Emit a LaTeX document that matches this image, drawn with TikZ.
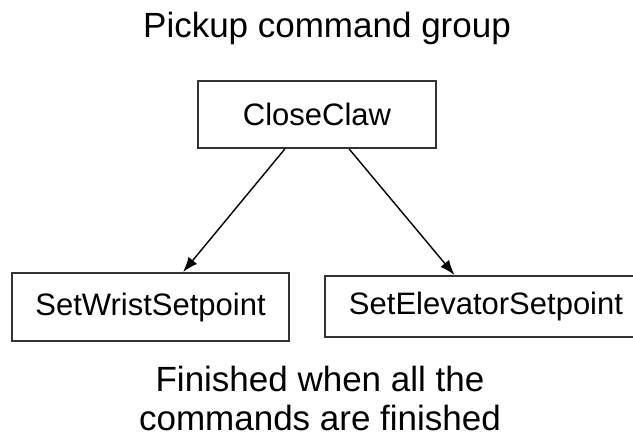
\documentclass[tikz,border=0pt]{standalone}
\usepackage{fontspec}
\setmainfont{Liberation Sans}
\usetikzlibrary{arrows.meta}

\begin{document}
\begin{tikzpicture}[x=0.5pt, y=-0.5pt,
    cmdbox/.style={draw=black!80, line width=1pt, inner sep=0pt, font=\fontsize{15.5}{18}\selectfont},
    caption/.style={inner sep=0pt, font=\fontsize{17.5}{19.5}\selectfont, align=center},
    link/.style={-{Latex[length=7.5pt,width=5.5pt]}, line width=0.7pt}
  ]
  \useasboundingbox (0,0) rectangle (633,441);
  \clip (0,0) rectangle (633,441);

  \node[caption, anchor=base] (title) at (327,37) {Pickup command group};

  \node[cmdbox, minimum width=119pt, minimum height=33.5pt] (close) at (317,114.5) {CloseClaw};
  \node[cmdbox, minimum width=138.5pt, minimum height=34pt] (wrist) at (150.5,307) {SetWristSetpoint};
  \node[cmdbox, minimum width=161pt, minimum height=30.5pt] (elev) at (486,306.5) {SetElevatorSetpoint};

  \node[caption, anchor=north] (note) at (320,366) {Finished when all the\\commands are finished};

  \draw[link] (close.227) -- (wrist.47);
  \draw[link] (close.313) -- (elev.135);
\end{tikzpicture}
\end{document}
